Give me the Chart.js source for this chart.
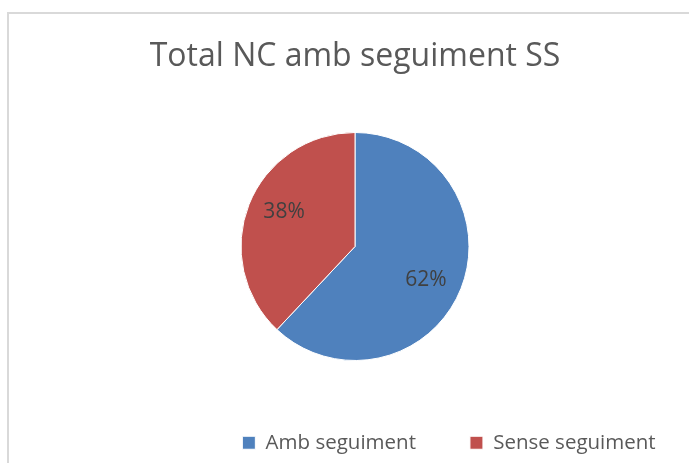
<!DOCTYPE html>
<html>
<head>
<meta charset="utf-8">
<script src="https://cdn.jsdelivr.net/npm/chart.js@4"></script>
<style>
  html, body { margin: 0; padding: 0; background: #ffffff; width: 689px; height: 463px; overflow: hidden; }
  #frame { position: absolute; left: 7px; top: 12px; width: 720px; height: 480px;
           border-top: 2px solid #D9D9D9; border-left: 2px solid #D9D9D9; }
  #wrap { position: absolute; left: 8px; top: 13px; width: 694px; height: 450px; }
</style>
</head>
<body>
<div id="frame"></div>
<div id="wrap"><canvas id="c" width="694" height="450"></canvas></div>
<script>
const chartTitle = "Total NC amb seguiment SS";
const categories = ["Amb seguiment", "Sense seguiment"];
const values = [62, 38];
const colors = ["#4F81BD", "#C0504D"];
const LEGEND_SHIFT = 94;
const LABEL_ROTATE = 0.07;

const pctLabels = {
  id: 'pctLabels',
  afterDatasetsDraw(chart) {
    const ctx = chart.ctx;
    const meta = chart.getDatasetMeta(0);
    const data = chart.data.datasets[0].data;
    const total = data.reduce((a, b) => a + b, 0);
    ctx.save();
    ctx.font = '21px "Open Sans"';
    ctx.fillStyle = '#404040';
    ctx.textAlign = 'center';
    ctx.textBaseline = 'middle';
    meta.data.forEach((arc, i) => {
      const p = arc.getProps(['x', 'y', 'startAngle', 'endAngle', 'outerRadius'], true);
      const mid = (p.startAngle + p.endAngle) / 2 + LABEL_ROTATE;
      const r = p.outerRadius * 0.69;
      const txt = Math.round(data[i] / total * 100) + '%';
      ctx.fillText(txt, p.x + Math.cos(mid) * r, p.y + Math.sin(mid) * r);
    });
    ctx.restore();
  }
};

const shiftLegend = {
  id: 'shiftLegend',
  afterLayout(chart) {
    if (chart.legend) {
      chart.legend.left += LEGEND_SHIFT;
      chart.legend.right += LEGEND_SHIFT;
    }
  }
};

new Chart(document.getElementById('c'), {
  type: 'pie',
  data: {
    labels: categories,
    datasets: [{
      data: values,
      backgroundColor: colors,
      borderColor: '#ffffff',
      borderWidth: 1,
      radius: '86.7%'
    }]
  },
  options: {
    responsive: false,
    animation: false,
    devicePixelRatio: 1,
    layout: { padding: 0 },
    plugins: {
      title: {
        display: true,
        text: chartTitle,
        color: '#595959',
        font: { family: '"Open Sans"', size: 32, weight: 'normal' },
        padding: { top: 25, bottom: 38.1 }
      },
      legend: {
        display: true,
        position: 'bottom',
        align: 'center',
        labels: {
          color: '#595959',
          font: { family: '"Open Sans"', size: 20.5 },
          boxWidth: 13,
          boxHeight: 13,
          padding: 54
        }
      },
      tooltip: { enabled: false }
    }
  },
  plugins: [pctLabels, shiftLegend]
});
</script>
</body>
</html>
